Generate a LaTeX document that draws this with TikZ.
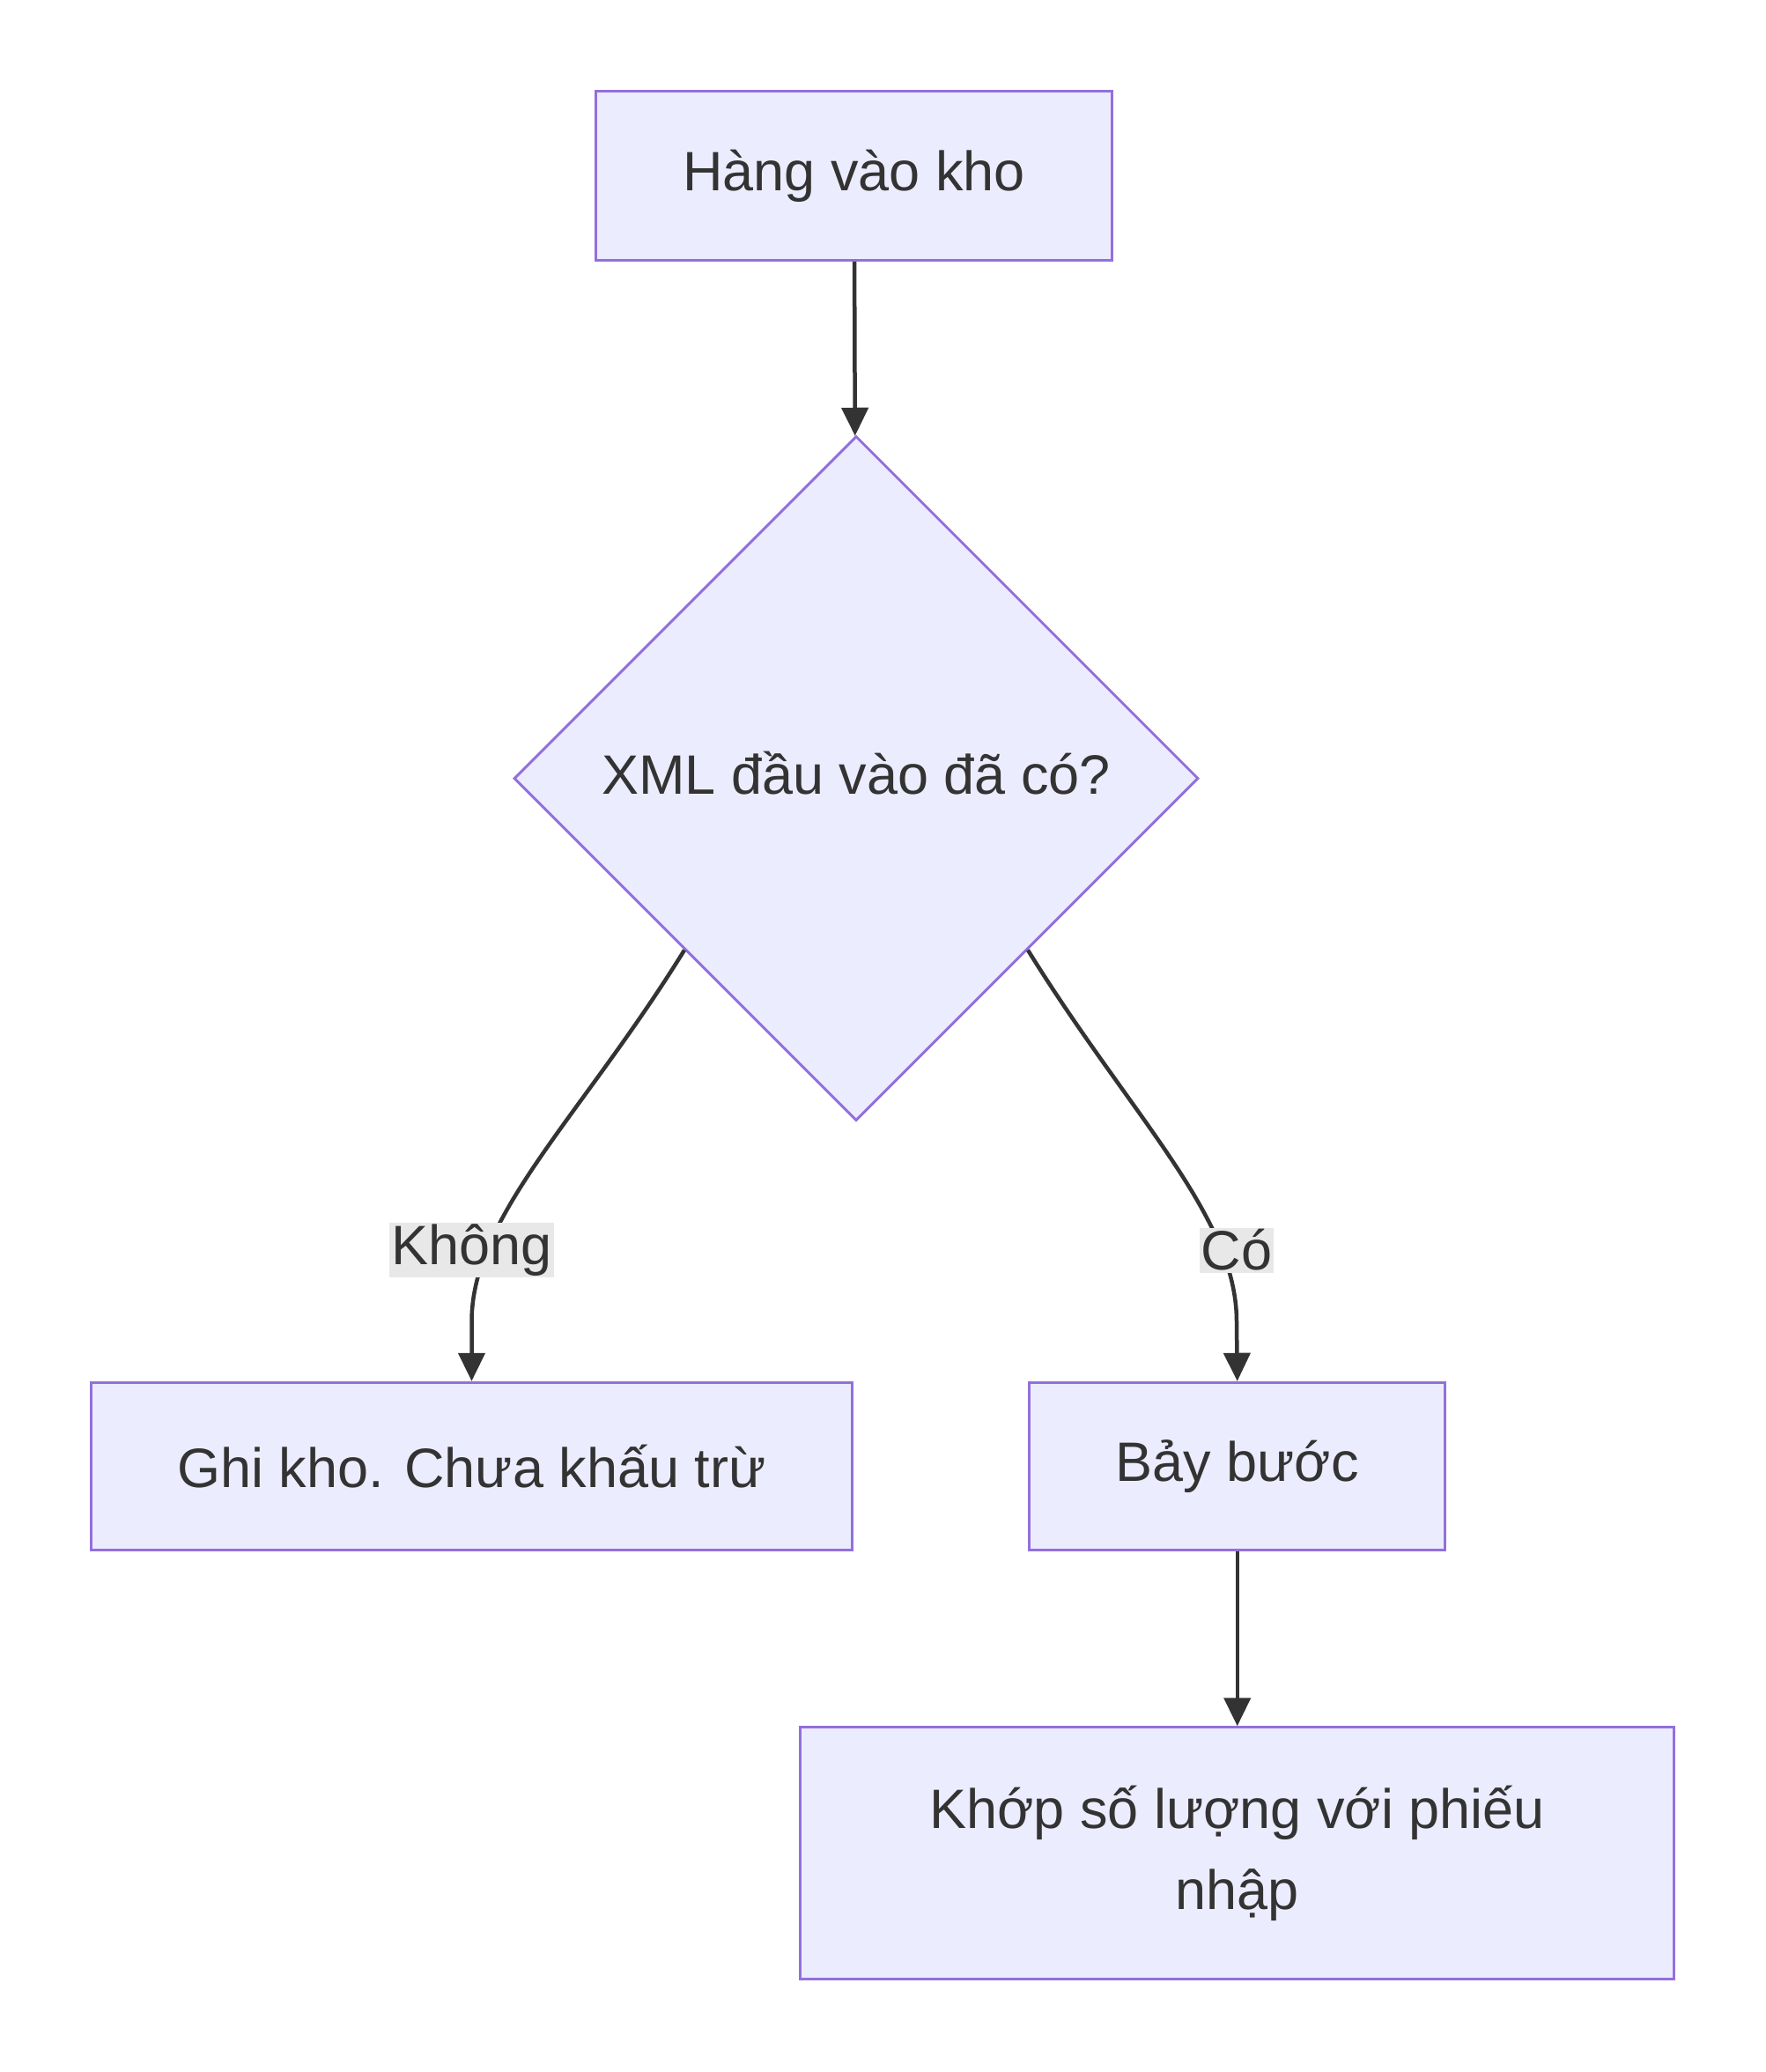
\documentclass[tikz,border=0pt]{standalone}
\usepackage{fontspec}
\setmainfont{Liberation Sans}
\usetikzlibrary{shapes.geometric,arrows.meta}
\definecolor{boxline}{HTML}{9370DB}
\definecolor{boxfill}{HTML}{ECECFF}
\definecolor{edge}{HTML}{333333}
\definecolor{lblbg}{HTML}{E8E8E8}
\tikzstyle{box}=[rectangle, draw=boxline, fill=boxfill, line width=1.5pt, inner sep=0pt, text=edge, font=\fontsize{31.5}{46}\selectfont, align=center]
\tikzstyle{decision}=[diamond, draw=boxline, fill=boxfill, line width=1.5pt, inner sep=0pt, aspect=1, minimum width=388.5pt, minimum height=388.5pt, text=edge, font=\fontsize{31.5}{46}\selectfont]
\tikzstyle{flow}=[draw=edge, line width=2.25pt, -{Triangle[length=16pt,width=15pt]}]
\tikzstyle{lbl}=[fill=lblbg, text=edge, inner sep=1pt, font=\fontsize{31.5}{46}\selectfont]

\begin{document}
\begin{tikzpicture}[x=0.75pt, y=-0.75pt]
                    \useasboundingbox (0, 0) rectangle (1336, 1568);
                    \node[box, minimum width=293pt, minimum height=96pt] (in) at (646.5, 133) {Hàng vào kho};
                    \node[decision] (xml) at (648, 589) {};
                    \node[text=edge, font=\fontsize{31.5}{46}\selectfont] (q) at (648, 585) {XML đầu vào đã có?};
                    \node[box, minimum width=432pt, minimum height=95pt] (ghi) at (357, 1109.5) {Ghi kho. Chưa khấu trừ};
                    \node[box, minimum width=236pt, minimum height=95pt] (bay) at (936.5, 1109.5) {Bảy bước};
                    \node[box, minimum width=496pt, minimum height=143pt] (khop) at (936.5, 1402.5) {Khớp số lượng với phiếu\\nhập};
                    \draw[flow] (in) -- (xml);
                    \draw[flow] (xml.south west) .. controls (440, 845) and (357, 920) .. (357, 1000) -- (ghi.north);
                    \draw[flow] (xml.south east) .. controls (856, 845) and (936, 920) .. (936, 1000) -- (bay.north);
                    \draw[flow] (bay) -- (khop);
                    \node[lbl] (no) at (357, 946) {Không};
                    \node[lbl] (yes) at (936, 946) {Có};
                \end{tikzpicture}
\end{document}
